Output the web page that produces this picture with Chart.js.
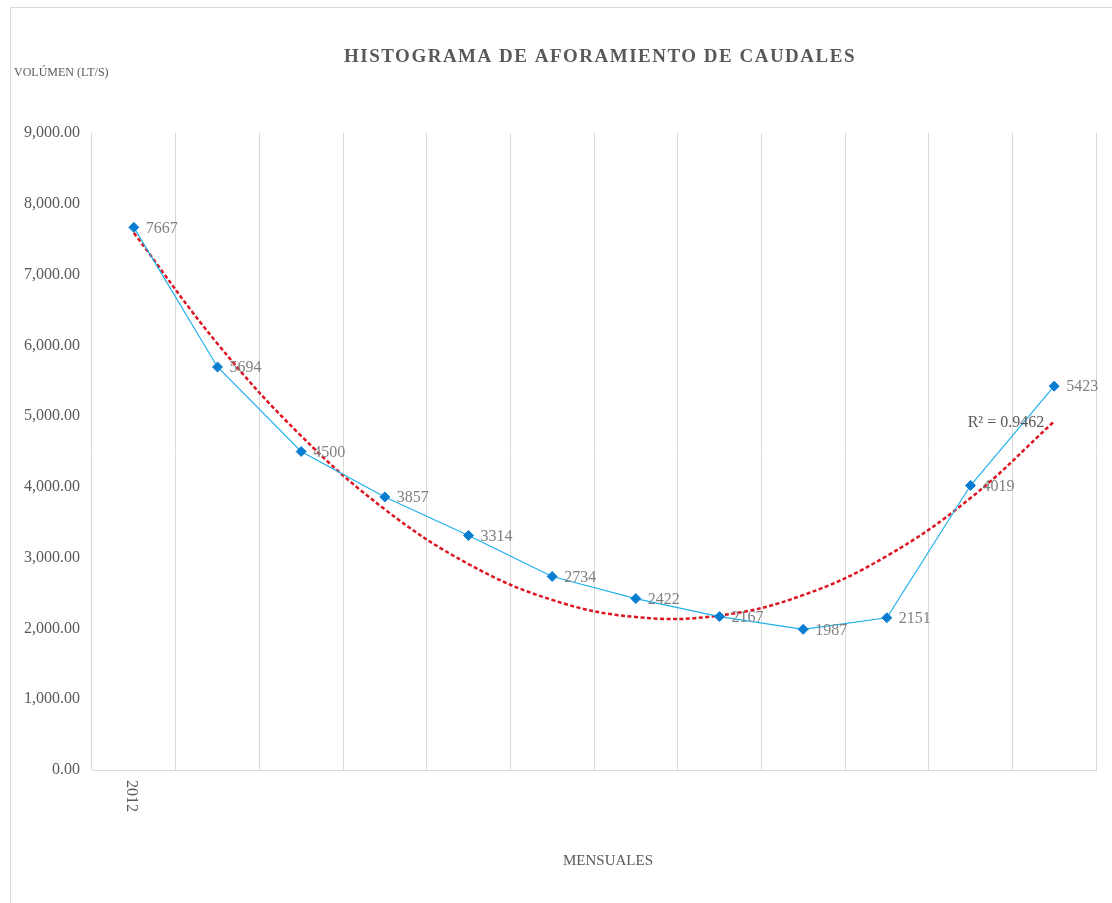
<!DOCTYPE html>
<html>
<head>
<meta charset="utf-8">
<script src="https://cdn.jsdelivr.net/npm/chart.js@4/dist/chart.umd.min.js"></script>
<style>
  html, body { margin: 0; padding: 0; background: #fff; }
  #wrap { width: 1112px; height: 903px; }
</style>
</head>
<body>
<div id="wrap"><canvas id="chart"></canvas></div>
<script>
// categories (only the first one carries a visible label)
const months = ['2012', '', '', '', '', '', '', '', '', '', '', ''];
const caudales = [7667, 5694, 4500, 3857, 3314, 2734, 2422, 2167, 1987, 2151, 4019, 5423];
// poly (order 2) trend line
const tendencia = [7590, 6023, 4720, 3683, 2910, 2403, 2161, 2183, 2471, 3024, 3842, 4925];
const yTicks = [0, 1000, 2000, 3000, 4000, 5000, 6000, 7000, 8000, 9000];

const SERIF = '"Liberation Serif", "Times New Roman", serif';

const textPlugin = {
  id: 'texts',
  beforeDraw(chart) {
    const ctx = chart.ctx;
    ctx.save();
    ctx.strokeStyle = '#D9D9D9';
    ctx.lineWidth = 1;
    ctx.strokeRect(10.5, 7.5, 1300, 1100);
    ctx.restore();
  },
  afterDatasetsDraw(chart) {
    const ctx = chart.ctx;
    const x = chart.scales.x;
    const meta = chart.getDatasetMeta(0);
    const trend = chart.getDatasetMeta(1);
    ctx.save();

    // title
    ctx.fillStyle = '#595959';
    ctx.font = 'bold 19px ' + SERIF;
    ctx.textAlign = 'center';
    ctx.textBaseline = 'middle';
    if ('letterSpacing' in ctx) ctx.letterSpacing = '1.5px';
    ctx.fillText('HISTOGRAMA DE AFORAMIENTO DE CAUDALES', 600, 57);
    if ('letterSpacing' in ctx) ctx.letterSpacing = '0px';

    // axis titles
    ctx.font = '12px ' + SERIF;
    ctx.textAlign = 'left';
    ctx.fillText('VOLÚMEN (LT/S)', 14, 73);
    ctx.font = '15px ' + SERIF;
    ctx.textAlign = 'center';
    ctx.fillText('MENSUALES', 608, 861);

    // rotated category label
    ctx.save();
    ctx.font = '16px ' + SERIF;
    ctx.translate(x.getPixelForValue(0) - 3, 780);
    ctx.rotate(Math.PI / 2);
    ctx.textAlign = 'left';
    ctx.textBaseline = 'middle';
    ctx.fillText(months[0], 0, 0);
    ctx.restore();

    // data labels
    ctx.font = '16px ' + SERIF;
    ctx.fillStyle = '#808080';
    ctx.textAlign = 'left';
    ctx.textBaseline = 'middle';
    meta.data.forEach((pt, i) => {
      ctx.fillText(String(caudales[i]), pt.x + 12, pt.y + 1);
    });

    // R² label
    const last = trend.data[trend.data.length - 1];
    ctx.fillStyle = '#595959';
    ctx.textAlign = 'right';
    ctx.fillText('R² = 0.9462', last.x - 10, last.y + 1);
    ctx.restore();
  }
};

new Chart(document.getElementById('chart'), {
  type: 'line',
  data: {
    labels: months,
    datasets: [
      {
        label: 'Caudal',
        data: caudales,
        borderColor: '#1FB0EC',
        borderWidth: 1.2,
        pointStyle: 'rectRot',
        pointRadius: 5,
        pointBackgroundColor: '#0A7DD0',
        pointBorderColor: '#0A7DD0',
        pointBorderWidth: 1,
        tension: 0,
        order: 1
      },
      {
        label: 'Tendencia',
        data: tendencia,
        borderColor: '#DD1420',
        borderWidth: 2.5,
        borderDash: [4, 2.5],
        pointRadius: 0,
        tension: 0.4,
        order: 2
      }
    ]
  },
  options: {
    responsive: true,
    maintainAspectRatio: false,
    animation: false,
    layout: { padding: { left: 10, right: 16, top: 133, bottom: 0 } },
    plugins: {
      legend: { display: false },
      tooltip: { enabled: false },
      title: { display: false }
    },
    scales: {
      x: {
        type: 'category',
        offset: true,
        grid: { display: true, offset: true, color: '#D9D9D9', lineWidth: 1, drawTicks: false },
        border: { display: true, color: '#D9D9D9' },
        ticks: { display: false },
        afterFit(scale) { scale.height = 133; }
      },
      y: {
        min: 0,
        max: 9000,
        afterBuildTicks(scale) { scale.ticks = yTicks.map(v => ({ value: v })); },
        grid: { display: false, drawTicks: false },
        border: { display: false },
        ticks: {
          color: '#595959',
          font: { family: SERIF, size: 16 },
          padding: 12,
          callback: v => v.toLocaleString('en-US', { minimumFractionDigits: 2, maximumFractionDigits: 2 })
        },
        afterFit(scale) { scale.width = 82; }
      }
    }
  },
  plugins: [textPlugin]
});
</script>
</body>
</html>
